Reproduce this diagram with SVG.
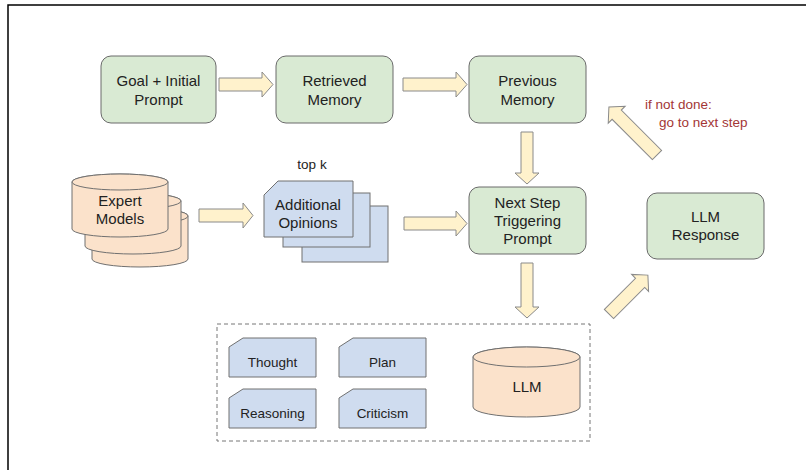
<svg xmlns="http://www.w3.org/2000/svg" width="806" height="470" viewBox="0 0 806 470">
  <style>
    text { font-family: "Liberation Sans", Arial, sans-serif; fill: #222; text-anchor: middle; }
    .t15 { font-size: 15px; }
    .t13 { font-size: 13.5px; }
    .note { font-size: 13.5px; fill: #a33636; text-anchor: start; }
    .box { fill: #d9ead3; stroke: #6a6a6a; stroke-width: 1; }
    .card { fill: #cfdcef; stroke: #707070; stroke-width: 1; }
    .cyl { fill: #fbe2cb; stroke: #707070; stroke-width: 1; }
    .arrow { fill: #fff2cc; stroke: #8a8a8a; stroke-width: 1; stroke-linejoin: miter; }
    .dash { fill: none; stroke: #777; stroke-width: 1; stroke-dasharray: 4 3; }
  </style>

  <rect width="806" height="470" fill="#fff"/>
  <!-- outer frame (top and left edges) -->
  <path d="M8,470 V5 H806" fill="none" stroke="#000" stroke-width="1.5"/>

  <!-- connectors: block arrows -->
  <g id="connectors">
    <polygon class="arrow" points="219,78 262,78 262,72 273,84.5 262,97 262,91 219,91"/>
    <polygon class="arrow" points="403,78 456,78 456,72 467,84.5 456,97 456,91 403,91"/>
    <polygon class="arrow" points="199,209 243,209 243,203 253,215.5 243,228 243,222 199,222"/>
    <polygon class="arrow" points="404,217 456,217 456,211 467,223.5 456,236 456,230 404,230"/>
    <polygon class="arrow" points="521,132 533,132 533,173 539,173 527,184 515,173 521,173"/>
    <polygon class="arrow" points="521,263 533,263 533,307 539,307 527,318 515,307 521,307"/>
    <!-- toward LLM Response -->
    <polygon class="arrow" transform="translate(609,314) rotate(-45)" points="0,-6.5 44,-6.5 44,-12 55,0 44,12 44,6.5 0,6.5"/>
    <!-- loop back to Previous Memory -->
    <polygon class="arrow" transform="translate(657,155) rotate(-135)" points="0,-6.5 57,-6.5 57,-12 68,0 57,12 57,6.5 0,6.5"/>
  </g>

  <g id="goal">
    <rect class="box" x="101" y="56" width="115" height="67" rx="10"/>
    <text class="t15" x="158.5" y="86">Goal + Initial</text>
    <text class="t15" x="158.5" y="105">Prompt</text>
  </g>

  <g id="retrieved">
    <rect class="box" x="276" y="56" width="117" height="67" rx="10"/>
    <text class="t15" x="334.5" y="86">Retrieved</text>
    <text class="t15" x="334.5" y="105">Memory</text>
  </g>

  <g id="previous">
    <rect class="box" x="469" y="56" width="117" height="67" rx="10"/>
    <text class="t15" x="527.5" y="86">Previous</text>
    <text class="t15" x="527.5" y="105">Memory</text>
  </g>

  <g id="next-step">
    <rect class="box" x="469" y="187" width="117" height="67" rx="10"/>
    <text class="t15" x="527.5" y="208">Next Step</text>
    <text class="t15" x="527.5" y="226">Triggering</text>
    <text class="t15" x="527.5" y="244">Prompt</text>
  </g>

  <g id="llm-response">
    <rect class="box" x="647" y="193" width="117" height="66" rx="10"/>
    <text class="t15" x="705.5" y="222">LLM</text>
    <text class="t15" x="705.5" y="240">Response</text>
  </g>

  <g id="loop-note">
    <text class="note" x="645" y="109">if not done:</text>
    <text class="note" x="659" y="127">go to next step</text>
  </g>

  <g id="expert-models">
    <path class="cyl" d="M92,216 A48,8 0 0 1 188,216 V259 A48,8 0 0 1 92,259 Z"/>
    <ellipse class="cyl" cx="140" cy="216" rx="48" ry="8"/>
    <path class="cyl" d="M85,201 A48,8 0 0 1 181,201 V246 A48,8 0 0 1 85,246 Z"/>
    <ellipse class="cyl" cx="133" cy="201" rx="48" ry="8"/>
    <path class="cyl" d="M72,182 A48,8 0 0 1 168,182 V229 A48,8 0 0 1 72,229 Z"/>
    <ellipse class="cyl" cx="120" cy="182" rx="48" ry="8"/>
    <text class="t15" x="120" y="206">Expert</text>
    <text class="t15" x="120" y="224">Models</text>
  </g>

  <g id="opinions">
    <text class="t13" x="312" y="169">top k</text>
    <rect class="card" x="302" y="206" width="86" height="56"/>
    <rect class="card" x="283" y="193" width="87" height="54"/>
    <path class="card" d="M264,195 L278,181 H353 V237 H264 Z"/>
    <text class="t15" x="308" y="210">Additional</text>
    <text class="t15" x="308" y="228">Opinions</text>
  </g>

  <g id="llm-step">
    <rect class="dash" x="217" y="324" width="373" height="117"/>
    <g id="thought">
      <path class="card" d="M229,347 L243,338 H316 V377 H229 Z"/>
      <text class="t13" x="272.5" y="367">Thought</text>
    </g>
    <g id="plan">
      <path class="card" d="M339,347 L353,338 H426 V377 H339 Z"/>
      <text class="t13" x="382.5" y="367">Plan</text>
    </g>
    <g id="reasoning">
      <path class="card" d="M229,398 L243,389 H316 V428 H229 Z"/>
      <text class="t13" x="272.5" y="418">Reasoning</text>
    </g>
    <g id="criticism">
      <path class="card" d="M339,398 L353,389 H426 V428 H339 Z"/>
      <text class="t13" x="382.5" y="418">Criticism</text>
    </g>
    <g id="llm">
      <path class="cyl" d="M473,357 A53.5,10 0 0 1 580,357 V407 A53.5,10 0 0 1 473,407 Z"/>
      <ellipse class="cyl" cx="526.5" cy="357" rx="53.5" ry="10"/>
      <text class="t15" x="527" y="392">LLM</text>
    </g>
  </g>
</svg>
